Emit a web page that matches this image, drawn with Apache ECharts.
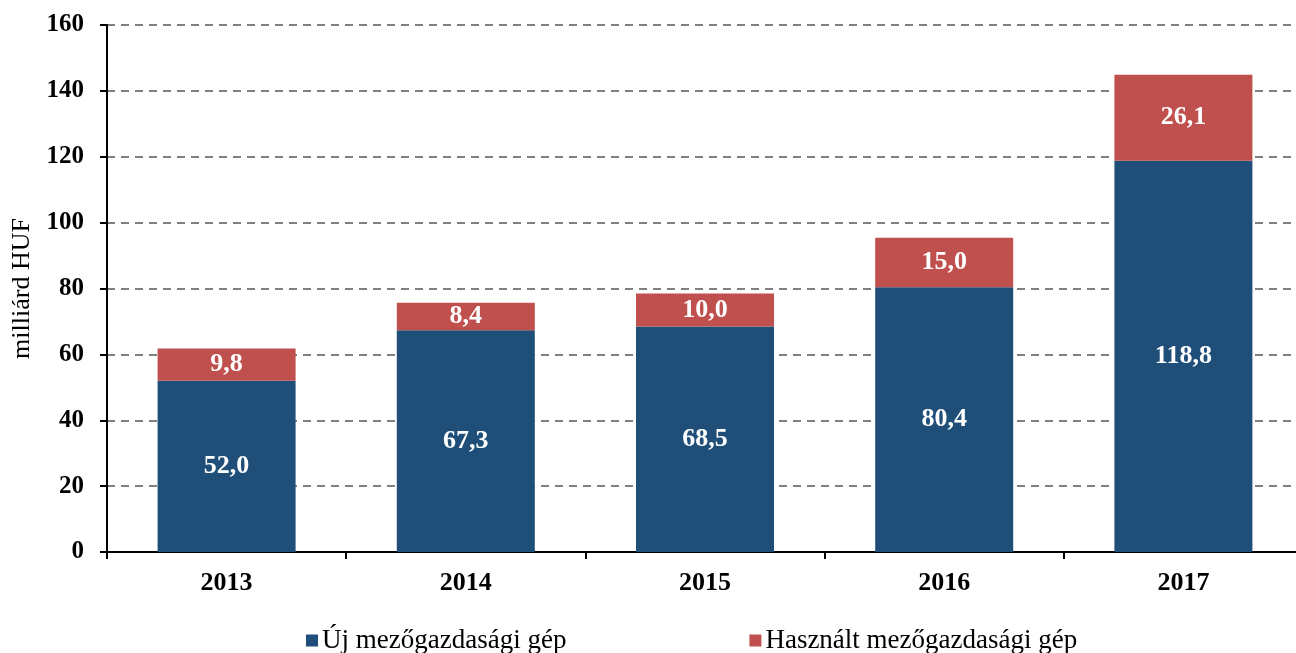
<!DOCTYPE html>
<html>
<head>
<meta charset="utf-8">
<script src="https://cdn.jsdelivr.net/npm/echarts@6/dist/echarts.min.js"></script>
<style>html,body{margin:0;padding:0;background:#fff}#c{width:1296px;height:653px}</style>
</head>
<body>
<div id="c"></div>
<script>
const categories = ['2013', '2014', '2015', '2016', '2017'];
const newMachines = [52.0, 67.3, 68.5, 80.4, 118.8];
const usedMachines = [9.8, 8.4, 10.0, 15.0, 26.1];
const seriesNames = ['Új mezőgazdasági gép', 'Használt mezőgazdasági gép'];
const yAxisName = 'milliárd HUF';

const FONT = '"Liberation Serif", "Times New Roman", serif';
const fmt = p => p.value.toFixed(1).replace('.', ',');
const chart = echarts.init(document.getElementById('c'));
const labelStyle = {show: true, position: 'inside', color: '#fff', fontWeight: 'bold', fontSize: 26, fontFamily: FONT, formatter: fmt};
chart.setOption({
  animation: false,
  textStyle: {fontFamily: FONT},
  grid: {left: 107, width: 1196, top: 25, bottom: 101, outerBoundsMode: 'none', containLabel: false},
  legend: {
    top: 622, left: 301, itemGap: 183, icon: 'rect', itemWidth: 12, itemHeight: 12,
    textStyle: {fontSize: 27, fontFamily: FONT, color: '#000', padding: [0, 0, 0, -1]},
    data: seriesNames
  },
  xAxis: {
    type: 'category', data: categories,
    axisLine: {lineStyle: {color: '#000', width: 2}},
    axisTick: {show: true, length: 7, lineStyle: {color: '#000', width: 2}, alignWithLabel: false},
    axisLabel: {fontSize: 26, fontWeight: 'bold', color: '#000', margin: 18, fontFamily: FONT}
  },
  yAxis: {
    type: 'value', min: 0, max: 160, interval: 20,
    name: yAxisName, nameLocation: 'middle', nameGap: 72,
    nameTextStyle: {fontSize: 26, color: '#000', fontFamily: FONT},
    axisLine: {show: true, lineStyle: {color: '#000', width: 2}},
    axisTick: {show: true, length: 7, lineStyle: {color: '#000', width: 2}},
    axisLabel: {fontSize: 25, fontWeight: 'bold', color: '#000', margin: 23, fontFamily: FONT},
    splitLine: {show: true, lineStyle: {color: '#808080', type: [8, 6], width: 2}}
  },
  series: [
    {name: seriesNames[0], type: 'bar', stack: 's', data: newMachines, barWidth: 138,
     itemStyle: {color: '#1F4E79'}, label: labelStyle},
    {name: seriesNames[1], type: 'bar', stack: 's', data: usedMachines, barWidth: 138,
     itemStyle: {color: '#C0504D'}, label: labelStyle}
  ]
});
</script>
</body>
</html>
